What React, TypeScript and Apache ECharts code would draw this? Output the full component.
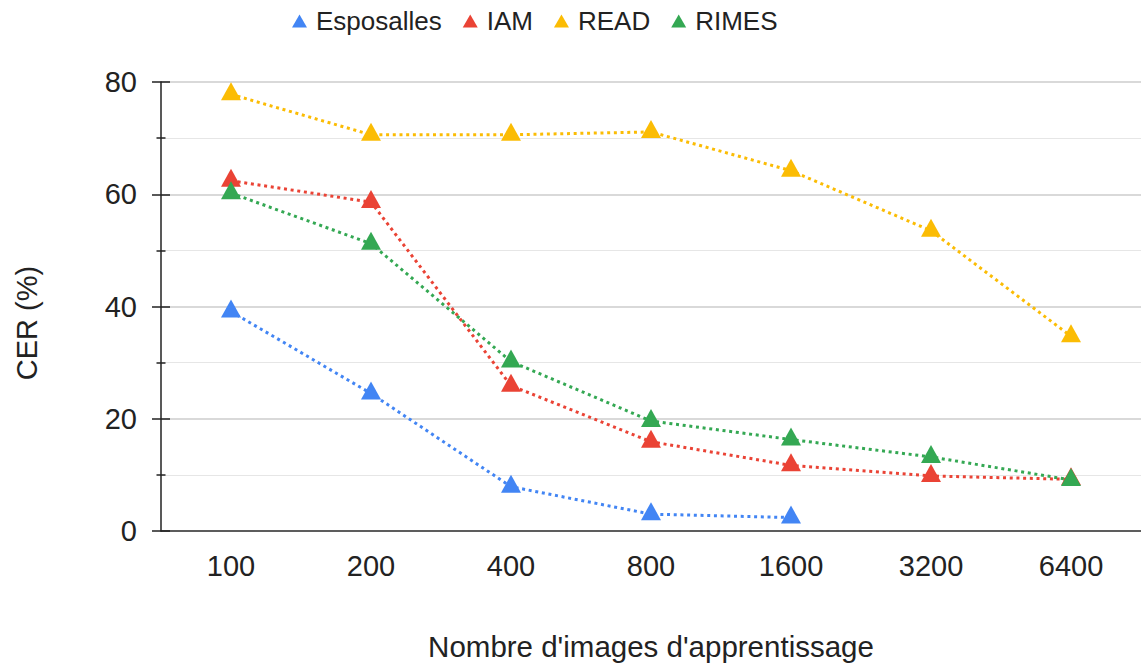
import React, { useEffect, useRef } from "react";
import * as echarts from "echarts";

const categories = ["100", "200", "400", "800", "1600", "3200", "6400"];
const esposalles = [39.1, 24.5, 7.9, 3.0, 2.4, null, null];
const iam = [62.4, 58.6, 25.9, 15.9, 11.7, 9.8, 9.2];
const read = [77.8, 70.6, 70.6, 71.1, 64.2, 53.5, 34.7];
const rimes = [60.2, 51.2, 30.2, 19.6, 16.3, 13.2, 9.1];
const seriesNames = ["Esposalles", "IAM", "READ", "RIMES"];
const colors = ["#4285F4", "#EA4335", "#FBBC04", "#34A853"];
const xTitle = "Nombre d'images d'apprentissage";
const yTitle = "CER (%)";

const FONT = "'Liberation Sans', Arial, sans-serif";

export default function App() {
  const ref = useRef<HTMLDivElement>(null);
  useEffect(() => {
    if (!ref.current) return;
    const chart = echarts.init(ref.current, undefined, { renderer: "svg" });
    const dataArr = [esposalles, iam, read, rimes];
    const series = dataArr.map((d, i) => ({
      name: seriesNames[i],
      type: "line",
      data: d,
      symbol: "triangle",
      symbolSize: [20, 18],
      symbolOffset: [0, -3],
      itemStyle: { color: colors[i] },
      lineStyle: { color: colors[i], width: 3, type: [3, 3.7], cap: "butt" },
      connectNulls: false,
      z: 3 + i,
    }));
    chart.setOption({
      animation: false,
      color: colors,
      textStyle: { fontFamily: FONT },
      legend: {
        left: 287,
        top: 3,
        icon: "triangle",
        itemWidth: 15,
        itemHeight: 13,
        itemGap: 21,
        textStyle: { fontSize: 26, color: "#222", fontFamily: FONT, padding: [0, 0, 0, 4] },
        data: seriesNames,
      },
      grid: { left: 161, right: 0, top: 82, bottom: 135, containLabel: false },
      xAxis: {
        type: "category",
        data: categories,
        boundaryGap: true,
        axisLine: { show: true, lineStyle: { color: "#333", width: 1.5 } },
        axisTick: { show: false },
        axisLabel: { fontSize: 29, color: "#222", margin: 20, fontFamily: FONT },
        splitLine: { show: false },
      },
      yAxis: [
        {
          type: "value",
          min: 0,
          max: 80,
          interval: 20,
          axisLine: { show: true, lineStyle: { color: "#222", width: 1.5 } },
          axisTick: { show: true, length: 9, lineStyle: { color: "#222", width: 1.5 } },
          minorTick: { show: true, splitNumber: 2, length: 4.5, lineStyle: { color: "#222", width: 1.5 } },
          axisLabel: { fontSize: 29, color: "#222", margin: 24, fontFamily: FONT },
          splitLine: { show: true, lineStyle: { color: "#cccccc", width: 1.5 } },
          minorSplitLine: { show: true, lineStyle: { color: "#e6e6e6", width: 1.2 } },
        },
        {
          type: "value",
          min: 0,
          max: 80,
          interval: 20,
          position: "left",
          offset: 0,
          axisLine: { show: false },
          axisTick: { show: true, inside: true, length: 9, lineStyle: { color: "#222", width: 1.5 } },
          minorTick: { show: true, splitNumber: 2, length: 4.5, lineStyle: { color: "#222", width: 1.5 } },
          axisLabel: { show: false },
          splitLine: { show: false },
        },
      ],
      graphic: [
        {
          type: "text",
          x: 651,
          y: 646,
          style: {
            text: xTitle,
            fontSize: 29.5,
            fill: "#222",
            fontFamily: FONT,
            align: "center",
            verticalAlign: "middle",
          },
        },
        {
          type: "text",
          x: 27,
          y: 323,
          rotation: Math.PI / 2,
          style: {
            text: yTitle,
            fontSize: 29,
            fill: "#222",
            fontFamily: FONT,
            align: "center",
            verticalAlign: "middle",
          },
        },
      ],
      series,
    });
    return () => chart.dispose();
  }, []);
  return (
    <div
      ref={ref}
      style={{ position: "fixed", left: 0, top: 0, width: 1141, height: 666, background: "#fff" }}
    />
  );
}
